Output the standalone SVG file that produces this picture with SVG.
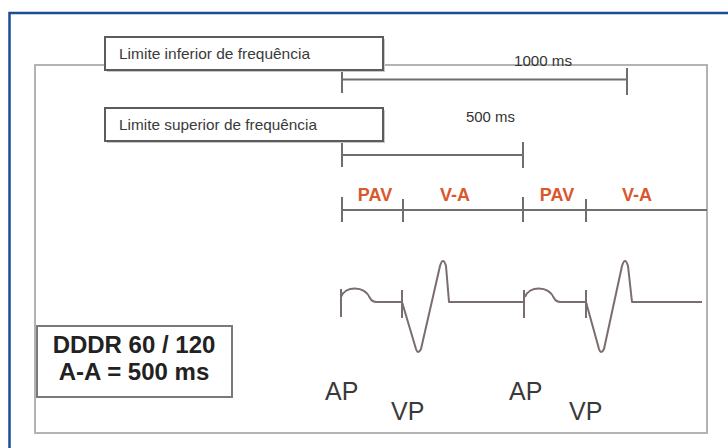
<svg xmlns="http://www.w3.org/2000/svg" width="728" height="448" viewBox="0 0 728 448">
<style>
.frame{fill:none;stroke:#b3b3b3;stroke-width:2}
.box{fill:#fff;stroke:#5c5c5c;stroke-width:2}
.shadow{fill:#c8c8c8}
.lbl{font-family:"Liberation Sans",Arial,sans-serif;font-size:15px;fill:#3a3a3a}
.ms{font-family:"Liberation Sans",Arial,sans-serif;font-size:15px;fill:#333}
.iv{font-family:"Liberation Sans",Arial,sans-serif;font-size:18px;font-weight:bold;fill:#d9582c;text-anchor:middle}
.pk{font-family:"Liberation Sans",Arial,sans-serif;font-size:25px;fill:#3a3a3a}
.big{font-family:"Liberation Sans",Arial,sans-serif;font-size:24px;font-weight:bold;fill:#222;text-anchor:middle}
.tl{fill:none;stroke:#6e6e6e;stroke-width:2}
.ecg{fill:none;stroke:#7a6d6d;stroke-width:2;stroke-linejoin:round}
</style>
<rect x="0" y="0" width="728" height="448" fill="#fff"/>
<rect x="9.5" y="13" width="740" height="460" fill="none" stroke="#1d4e90" stroke-width="2.5"/>
<rect class="frame" x="35" y="65" width="672" height="368"/>

<g id="connectors">
  <!-- 1000 ms interval -->
  <path class="tl" d="M342,79.5 H627 M342,70 V93 M627,68 V95"/>
  <!-- 500 ms interval -->
  <path class="tl" d="M342,155 H523 M342,141 V167 M523,142 V168"/>
  <!-- PAV / V-A timeline -->
  <path class="tl" d="M342,210 H707 M342,197 V222 M403,199 V222 M523,197 V222 M586,199 V222"/>
  <!-- ECG -->
  <path class="ecg" d="M341,297 C345,286 364,285 370,298 Q372,302 377,302 L402,302 L416,349 Q418,355 421,349 L440,266 Q443,256 446,266 L449,302 L524,302"/>
  <path class="ecg" d="M525,297 C529,286 548,285 554,298 Q556,302 561,302 L586,302 L599,349 Q601,355 604,349 L622,266 Q625,256 628,266 L632,302 L702,302"/>
  <path class="ecg" d="M341,289 V317 M402,290 V318 M524,290 V318 M586,290 V318"/>
</g>

<g id="limite-inferior">
  <rect class="shadow" x="107" y="39" width="278" height="33"/>
  <rect class="box" x="105" y="37" width="278" height="33"/>
  <text class="lbl" x="119" y="59" textLength="191" lengthAdjust="spacingAndGlyphs">Limite inferior de frequência</text>
</g>
<g id="limite-superior">
  <rect class="shadow" x="107" y="110" width="278" height="33"/>
  <rect class="box" x="105" y="108" width="278" height="33"/>
  <text class="lbl" x="119" y="130" textLength="198" lengthAdjust="spacingAndGlyphs">Limite superior de frequência</text>
</g>
<g id="label-1000">
  <text class="ms" x="514" y="66" textLength="58" lengthAdjust="spacingAndGlyphs">1000 ms</text>
</g>
<g id="label-500">
  <text class="ms" x="466" y="122" textLength="49" lengthAdjust="spacingAndGlyphs">500 ms</text>
</g>
<g id="intervals">
  <text class="iv" x="375" y="201">PAV</text>
  <text class="iv" x="455" y="201">V-A</text>
  <text class="iv" x="557" y="201">PAV</text>
  <text class="iv" x="637" y="201">V-A</text>
</g>
<g id="pacing-labels">
  <text class="pk" x="325" y="400">AP</text>
  <text class="pk" x="391" y="420">VP</text>
  <text class="pk" x="509" y="400">AP</text>
  <text class="pk" x="569" y="420">VP</text>
</g>
<g id="mode-box">
  <rect x="37" y="326" width="195" height="71" fill="#fff" stroke="#7a7a7a" stroke-width="2"/>
  <text class="big" x="134" y="353">DDDR 60 / 120</text>
  <text class="big" x="134" y="380">A-A = 500 ms</text>
</g>
</svg>
